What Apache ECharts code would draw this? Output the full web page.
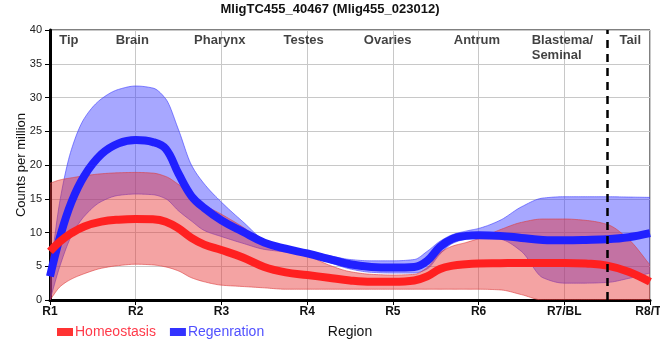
<!DOCTYPE html>
<html>
<head>
<meta charset="utf-8">
<script src="https://cdn.jsdelivr.net/npm/echarts@6/dist/echarts.min.js"></script>
<style>html,body{margin:0;padding:0;background:#fff}#c{width:660px;height:360px}</style>
</head>
<body>
<div id="c"></div>
<script>
// ---- data ----
const xs       = [1, 1.12, 1.25, 1.4, 1.6, 1.8, 2, 2.2, 2.35, 2.5, 2.65, 2.8, 3, 3.25, 3.5, 3.75, 4, 4.25, 4.5, 4.75, 5, 5.25, 5.4, 5.55, 5.7, 5.85, 6, 6.25, 6.5, 6.75, 7, 7.25, 7.5, 7.75, 8];
const regMean  = [3.5, 9.5, 14.5, 18.4, 21.6, 23.2, 23.7, 23.4, 22.4, 18.7, 15.4, 13.6, 11.8, 10.1, 8.5, 7.6, 6.9, 6.1, 5.3, 4.9, 4.8, 4.9, 5.8, 7.9, 9.1, 9.5, 9.6, 9.5, 9.2, 8.9, 8.85, 8.9, 9.0, 9.3, 9.9];
const regHigh  = [4, 15, 22.3, 26.9, 29.8, 31.2, 31.7, 31.4, 29.8, 25.2, 20.0, 17.2, 14.5, 11.6, 8.9, 7.9, 7.2, 6.6, 6.0, 5.8, 5.8, 6.0, 7.2, 8.7, 9.7, 10.2, 10.6, 11.8, 13.8, 15.1, 15.3, 15.3, 15.3, 15.25, 15.2];
const regLow   = [0, 5.2, 9.5, 12.4, 14.6, 15.5, 15.7, 15.6, 15.0, 13.2, 11.7, 10.3, 9.4, 8.4, 7.5, 7.1, 6.5, 5.6, 4.6, 4.1, 4.0, 4.0, 4.6, 6.8, 8.4, 9.0, 9.2, 9.0, 7.2, 3.3, 2.5, 2.5, 2.6, 3.2, 4.0];
const homMean  = [7.2, 8.7, 9.9, 10.9, 11.6, 11.9, 12.0, 11.95, 11.6, 10.6, 9.2, 8.2, 7.4, 6.3, 4.9, 4.1, 3.7, 3.3, 2.9, 2.7, 2.7, 2.9, 3.5, 4.6, 5.1, 5.3, 5.4, 5.45, 5.5, 5.5, 5.5, 5.4, 5.1, 4.2, 2.7];
const homHigh  = [17.3, 17.8, 18.1, 18.4, 18.7, 18.85, 18.9, 18.8, 18.3, 17.1, 15.6, 14.1, 12.7, 10.8, 8.5, 7.3, 6.6, 5.2, 4.2, 3.8, 3.7, 3.8, 4.8, 7.0, 8.0, 8.5, 9.1, 10.4, 11.5, 12.0, 12.0, 11.8, 11.2, 9.0, 5.2];
const homLow   = [0, 2.0, 3.1, 3.9, 4.7, 5.1, 5.3, 5.2, 4.9, 4.3, 3.3, 2.7, 2.2, 2.0, 1.8, 1.6, 1.6, 1.6, 1.6, 1.6, 1.6, 1.6, 1.6, 1.6, 1.6, 1.6, 1.6, 1.5, 0.8, 0, 0, 0, 0, 0, 0];
const xTickLabels = ['R1', 'R2', 'R3', 'R4', 'R5', 'R6', 'R7/BL', 'R8/TI'];
const regionNames = ['Tip', 'Brain', 'Pharynx', 'Testes', 'Ovaries', 'Antrum', 'Blastema/\nSeminal', 'Tail'];
const regionPos   = [1.22, 1.96, 2.98, 3.96, 4.94, 5.98, 6.62, 7.77];
const boundaryX   = 7.5;
const yTicks      = [0, 40, 5];
const seriesNames = ['Homeostasis', 'Regenration'];

// ---- build chart ----
const FONT = "'Liberation Sans', Arial, sans-serif";
const pairs = (arr) => xs.map((x, i) => [x, arr[i]]);
const SM = 0.4;

// monotone (PCHIP) cubic through the read values, used only to draw smooth band outlines
function pchipTangents(x, y) {
  const n = x.length, h = [], d = [], m = new Array(n);
  for (let i = 0; i < n - 1; i++) { h[i] = x[i + 1] - x[i]; d[i] = (y[i + 1] - y[i]) / h[i]; }
  m[0] = d[0]; m[n - 1] = d[n - 2];
  for (let i = 1; i < n - 1; i++) {
    if (d[i - 1] * d[i] <= 0) m[i] = 0;
    else m[i] = 3 * (h[i - 1] + h[i]) / ((2 * h[i] + h[i - 1]) / d[i - 1] + (h[i] + 2 * h[i - 1]) / d[i]);
  }
  return m;
}
function curvePoints(api, y) {
  const m = pchipTangents(xs, y), out = [];
  const STEPS = 12;
  for (let i = 0; i < xs.length - 1; i++) {
    const x0 = xs[i], x1 = xs[i + 1], hh = x1 - x0;
    for (let s = 0; s < STEPS; s++) {
      const t = s / STEPS, t2 = t * t, t3 = t2 * t;
      const h00 = 2 * t3 - 3 * t2 + 1, h10 = t3 - 2 * t2 + t, h01 = -2 * t3 + 3 * t2, h11 = t3 - t2;
      const yy = h00 * y[i] + h10 * hh * m[i] + h01 * y[i + 1] + h11 * hh * m[i + 1];
      out.push(api.coord([x0 + t * hh, yy]));
    }
  }
  out.push(api.coord([xs[xs.length - 1], y[y.length - 1]]));
  return out;
}

function band(low, high, fill, edge) {
  return {
    type: 'custom', silent: true, clip: true,
    data: [[xs[0], 0]],
    renderItem: (params, api) => {
      const top = curvePoints(api, high);
      const bot = curvePoints(api, low);
      return {
        type: 'group',
        children: [
          { type: 'polygon', shape: { points: top.concat(bot.slice().reverse()) }, style: { fill: fill, stroke: null } },
          { type: 'polyline', shape: { points: top }, style: { fill: null, stroke: edge, lineWidth: 1 } },
          { type: 'polyline', shape: { points: bot }, style: { fill: null, stroke: edge, lineWidth: 1 } }
        ]
      };
    }
  };
}

const BLUE = '#2020ff', RED = '#ff2020';
const series = [
  band(regLow, regHigh, 'rgba(60,60,255,0.45)', 'rgba(60,60,255,0.6)'),
  { name: seriesNames[1], type: 'line', data: pairs(regMean), smooth: SM, symbol: 'none',
    lineStyle: { width: 8, color: BLUE, cap: 'butt' }, itemStyle: { color: '#3333ff' } },
  band(homLow, homHigh, 'rgba(230,50,50,0.45)', 'rgba(220,60,60,0.6)'),
  { name: seriesNames[0], type: 'line', data: pairs(homMean), smooth: SM, symbol: 'none',
    lineStyle: { width: 8, color: RED, cap: 'butt' }, itemStyle: { color: '#ff3333' } },
  { type: 'scatter', symbolSize: 0, silent: true, z: 10,
    data: regionPos.map((x, i) => ({
      value: [x, yTicks[1]],
      label: {
        show: true, formatter: regionNames[i], position: 'bottom', distance: 3,
        align: regionNames[i].indexOf('\n') >= 0 ? 'left' : 'center',
        fontFamily: FONT, fontWeight: 'bold', fontSize: 13, lineHeight: 15, color: '#111'
      }
    })),
    markLine: {
      silent: true, symbol: ['none', 'none'], label: { show: false },
      lineStyle: { type: [8, 6], color: '#000', width: 2.5 },
      data: [{ xAxis: boundaryX }]
    }
  }
];

const chart = echarts.init(document.getElementById('c'), null, { renderer: 'canvas' });
chart.setOption({
  animation: false,
  backgroundColor: '#fff',
  title: {
    text: 'MligTC455_40467 (Mlig455_023012)', left: 'center', top: -2,
    textStyle: { fontFamily: FONT, fontWeight: 'bold', fontSize: 13, color: '#111' }
  },
  grid: { left: 50, right: 10, top: 30, bottom: 60, containLabel: false, outerBoundsMode: 'none',
    show: true, borderColor: '#000', borderWidth: 1, backgroundColor: 'transparent' },
  legend: {
    data: [
      { name: seriesNames[0], textStyle: { color: '#ff3a4a' } },
      { name: seriesNames[1], textStyle: { color: '#5050ff' } }
    ],
    left: 52, top: 320, icon: 'rect', itemWidth: 16, itemHeight: 8, itemGap: 14,
    textStyle: { fontFamily: FONT, fontSize: 14, padding: [0, 0, 0, -3] }
  },
  xAxis: {
    type: 'value', min: 1, max: 8, interval: 1,
    name: 'Region', nameLocation: 'middle', nameGap: 25,
    nameTextStyle: { fontFamily: FONT, fontSize: 14, color: '#111' },
    axisLine: { lineStyle: { color: '#000', width: 3 } },
    axisTick: { show: true, length: 5, lineStyle: { color: '#000', width: 1 } },
    axisLabel: { formatter: (v) => xTickLabels[Math.round(v) - 1] || '', fontFamily: FONT, fontWeight: 'bold', fontSize: 12, color: '#111', margin: 6, showMaxLabel: true, showMinLabel: true },
    splitLine: { show: true, lineStyle: { color: '#c8c8c8', width: 1 } }
  },
  yAxis: {
    type: 'value', min: yTicks[0], max: yTicks[1], interval: yTicks[2],
    name: 'Counts per million', nameLocation: 'middle', nameGap: 22, nameMoveOverlap: false,
    nameTextStyle: { fontFamily: FONT, fontSize: 13, color: '#111' },
    axisLine: { show: true, lineStyle: { color: '#000', width: 3 } },
    axisTick: { show: true, length: 5, lineStyle: { color: '#000', width: 1 } },
    axisLabel: { fontFamily: FONT, fontSize: 11, color: '#222', margin: 8 },
    splitLine: { show: true, lineStyle: { color: '#c8c8c8', width: 1 } }
  },
  series: series
});
</script>
</body>
</html>
